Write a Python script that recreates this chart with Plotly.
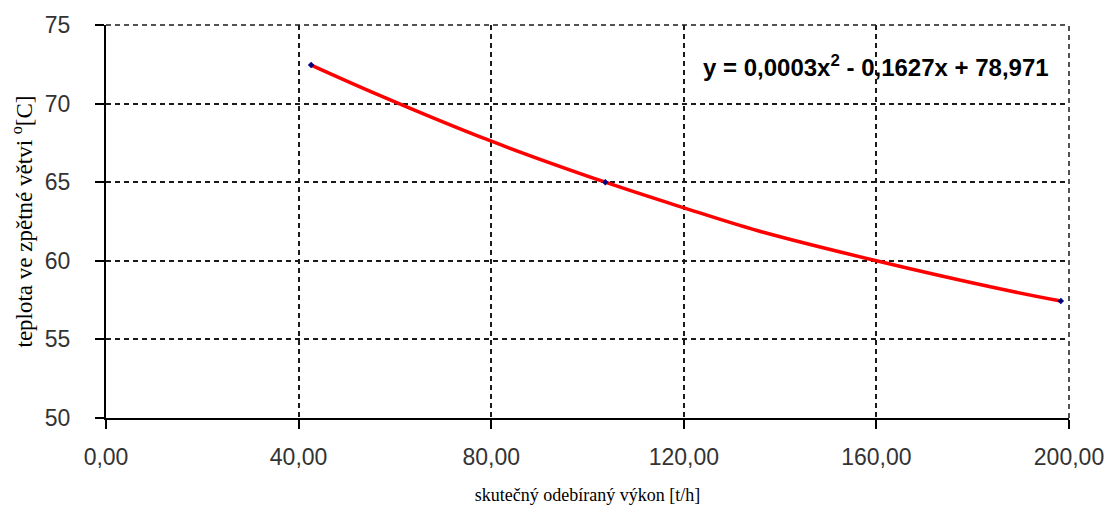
import plotly.graph_objects as go

# measured data points
data_x = [42.6, 103.7, 198.3]
data_y = [72.45, 65.0, 57.44]

# trendline points
trend_x = [42.6, 56.7, 79.5, 103.7, 119.7, 135.4, 160.0, 185.1, 198.3]
trend_y = [72.45, 70.54, 67.67, 65.0, 63.4, 61.91, 60.0, 58.25, 57.44]

x_ticks = [0, 40, 80, 120, 160, 200]
x_tick_labels = ["0,00", "40,00", "80,00", "120,00", "160,00", "200,00"]
y_ticks = [50, 55, 60, 65, 70, 75]
y_tick_labels = ["50", "55", "60", "65", "70", "75"]

equation = "y = 0,0003x<sup>2</sup> - 0,1627x + 78,971"
x_title = "skutečný odebíraný výkon [t/h]"
y_title = "teplota ve zpětné větvi <sup>o</sup>[C]"

fig = go.Figure()
fig.add_trace(go.Scatter(x=trend_x, y=trend_y, mode="lines",
                         line=dict(color="#ff0000", width=3.5, shape="spline"),
                         showlegend=False, hoverinfo="skip"))
fig.add_trace(go.Scatter(x=data_x, y=data_y, mode="markers",
                         marker=dict(color="#000080", size=5, symbol="diamond"),
                         showlegend=False))

grid = dict(showgrid=True, gridcolor="#1a1a1a", gridwidth=1.5, griddash="5px,4px")

fig.update_xaxes(range=[0, 200], tickvals=x_ticks, ticktext=x_tick_labels,
                 showline=True, linecolor="#000000", linewidth=2,
                 ticks="outside", ticklen=9, tickwidth=1.5, tickcolor="#000000",
                 ticklabelstandoff=8,
                 tickfont=dict(family="Liberation Sans, Arial", size=23, color="#333333"),
                 title=dict(text=x_title, font=dict(family="Liberation Serif, Times New Roman",
                                                    size=18, color="#000000"), standoff=20),
                 zeroline=False, **grid)
fig.update_yaxes(range=[50, 75], tickvals=y_ticks, ticktext=y_tick_labels,
                 showline=True, linecolor="#000000", linewidth=2,
                 ticks="outside", ticklen=9, tickwidth=1.5, tickcolor="#000000",
                 ticklabelstandoff=20,
                 tickfont=dict(family="Liberation Sans, Arial", size=23, color="#333333"),
                 title=dict(text=y_title, font=dict(family="Liberation Serif, Times New Roman",
                                                    size=23, color="#000000"), standoff=6),
                 zeroline=False, **grid)

# dashed top and right border of the plot area
fig.add_shape(type="line", xref="paper", yref="paper", x0=0, x1=1, y0=1, y1=1,
              line=dict(color="#1a1a1a", width=1.5, dash="5px,4px"))
fig.add_shape(type="line", xref="paper", yref="paper", x0=1, x1=1, y0=0, y1=1,
              line=dict(color="#1a1a1a", width=1.5, dash="5px,4px"))

fig.add_annotation(x=0.981, y=0.895, xref="paper", yref="paper", xanchor="right",
                   yanchor="middle", text="<b>" + equation + "</b>", showarrow=False,
                   font=dict(family="Liberation Sans, Arial", size=24, color="#000000"))

fig.update_layout(width=1116, height=516, margin=dict(l=106, r=44, t=25, b=98),
                  plot_bgcolor="#ffffff", paper_bgcolor="#ffffff")

fig.write_html("out.html")
